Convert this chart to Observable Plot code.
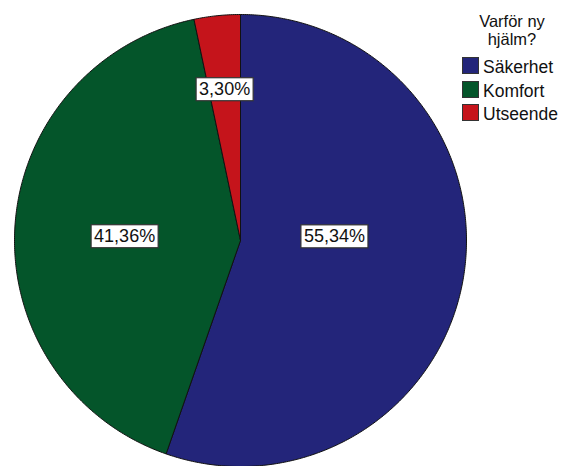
<!DOCTYPE html>
<html>
<head>
<meta charset="utf-8">
<script src="https://cdn.jsdelivr.net/npm/d3@7"></script>
<script src="https://cdn.jsdelivr.net/npm/@observablehq/plot@0.6"></script>
<style>
  html, body { margin: 0; padding: 0; background: #fff; }
  body { width: 562px; height: 466px; position: relative; overflow: hidden;
         font-family: "Liberation Sans", Arial, sans-serif; }
  #chart { position: absolute; left: 0; top: 0; }
  #legend { position: absolute; left: 0; top: 0; }
  .ltitle { position: absolute; left: 462px; width: 100px; height: 18px; text-align: center;
            font-size: 16.5px; line-height: 18px; color: #111; white-space: nowrap; }
  .sw { position: absolute; width: 15px; height: 15px; border: 1px solid #333; }
  .lt { position: absolute; font-size: 17.5px; line-height: 17px; color: #111; white-space: nowrap; }
</style>
</head>
<body>
<div id="chart"></div>
<div id="legend"></div>
<script>
// ---- data ----
const categories = ["Säkerhet", "Komfort", "Utseende"];
const percents = [55.34, 41.36, 3.30];
const labels = ["55,34%", "41,36%", "3,30%"];
const legendTitle = ["Varför ny", "hjälm?"];

// ---- styling / layout ----
const colors = ["#23257a", "#04552a", "#c5141b"];
// label placement: angle (deg, clockwise from 12 o'clock) and fraction of radius
const labelAngle = [87.6, 272, 354];
const labelRadius = [0.416, 0.513, 0.672];

const W = 562, H = 466, cx = 240, cy = 240, R = 226;

// build slice polygons (unit circle coordinates)
const total = d3.sum(percents);
let start = 0;
const slices = categories.map((c, i) => {
  const a0 = start, a1 = start + percents[i] / total * 2 * Math.PI;
  start = a1;
  const pts = [{key: c, x: 0, y: 0}];
  const n = Math.max(2, Math.ceil((a1 - a0) / (Math.PI / 360)));
  for (let k = 0; k <= n; k++) {
    const a = a0 + (a1 - a0) * k / n;
    pts.push({key: c, x: Math.sin(a), y: Math.cos(a)});
  }
  pts.push({key: c, x: 0, y: 0});
  return pts;
});

const labelData = categories.map((c, i) => {
  const a = labelAngle[i] * Math.PI / 180;
  return {key: c, text: labels[i], x: Math.sin(a) * labelRadius[i], y: Math.cos(a) * labelRadius[i]};
});

const chart = Plot.plot({
  width: W, height: H,
  marginTop: 0, marginBottom: 0, marginLeft: 0, marginRight: 0,
  x: {domain: [-cx / R, (W - cx) / R], axis: null},
  y: {domain: [-(H - cy) / R, cy / R], axis: null},
  style: {fontFamily: '"Liberation Sans", Arial, sans-serif', background: "white"},
  marks: [
    ...slices.map((pts, i) => Plot.line(pts, {
      x: "x", y: "y", fill: colors[i], stroke: "#111", strokeWidth: 1, strokeLinejoin: "round"
    })),
    Plot.text(labelData, {
      x: "x", y: "y", text: "text", fontSize: 18, fill: "#111"
    })
  ]
});
document.getElementById("chart").appendChild(chart);

// white boxes behind labels
chart.querySelectorAll("text").forEach(t => {
  const b = t.getBBox();
  const r = document.createElementNS("http://www.w3.org/2000/svg", "rect");
  r.setAttribute("x", b.x - 3);
  r.setAttribute("y", b.y - 1.5);
  r.setAttribute("width", b.width + 6);
  r.setAttribute("height", b.height + 3);
  r.setAttribute("fill", "white");
  r.setAttribute("stroke", "#333");
  r.setAttribute("stroke-width", 1.2);
  const tr = t.getAttribute("transform");
  if (tr) r.setAttribute("transform", tr);
  t.parentNode.insertBefore(r, t);
});

// legend
const lg = d3.select("#legend");
legendTitle.forEach((line, i) => {
  lg.append("div").attr("class", "ltitle").style("top", (11.5 + i * 18.5) + "px").text(line);
});
categories.forEach((c, i) => {
  const top = 57 + i * 23.5;
  lg.append("div").attr("class", "sw")
    .style("left", "462px").style("top", top + "px").style("background", colors[i]);
  lg.append("div").attr("class", "lt")
    .style("left", "483px").style("top", (top + 2.4) + "px").text(c);
});
</script>
</body>
</html>
